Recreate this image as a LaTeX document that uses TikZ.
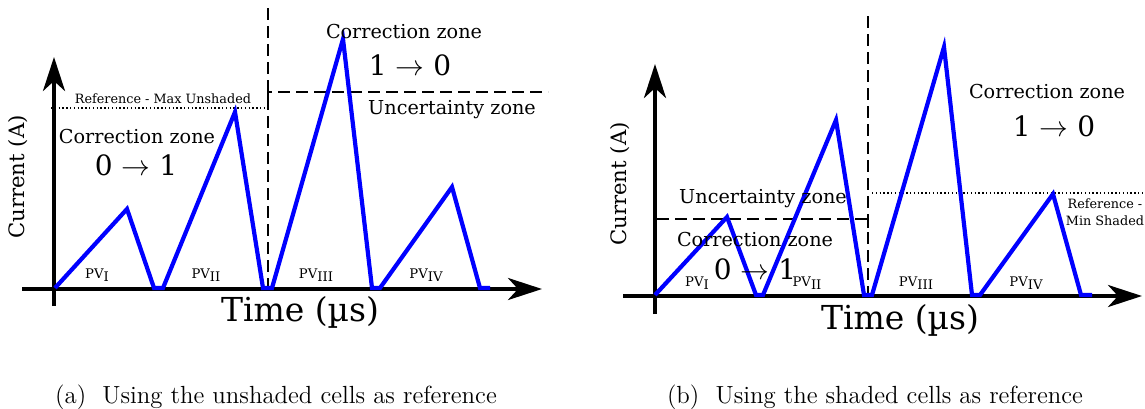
\documentclass[tikz,border=0pt]{standalone}
\usepackage{fontspec}
\newfontfamily\figfont{DejaVu Serif}
\usetikzlibrary{arrows.meta}

\newcommand{\pvsub}[1]{PV\raisebox{-0.35ex}{#1}}

\begin{document}
\begin{tikzpicture}[x=0.5pt, y=-0.5pt,
  every node/.style={inner sep=0.5pt},
  axis/.style={line width=2pt, -{Stealth[length=17pt, width=11pt, inset=5pt]}},
  pvline/.style={blue, line width=2.1pt, line join=miter},
  zone/.style={line width=0.8pt, dash pattern=on 6pt off 3pt},
  refline/.style={line width=0.8pt, dash pattern=on 0.7pt off 1.2pt},
  timelbl/.style={font=\figfont\fontsize{16.5}{19}\selectfont},
  zonelbl/.style={font=\figfont\fontsize{9.6}{11}\selectfont},
  translbl/.style={font=\figfont\fontsize{14}{16}\selectfont},
  reflbl/.style={font=\figfont\fontsize{6.4}{8.5}\selectfont, align=center},
  pvlbl/.style={font=\figfont\fontsize{6.6}{8}\selectfont},
  ylbl/.style={font=\figfont\fontsize{10.6}{12}\selectfont, rotate=90},
  caplbl/.style={font=\fontsize{12.4}{14}\selectfont}]
  \useasboundingbox (0,0) rectangle (1145,408);

  % (a) unshaded cells as reference
  \coordinate (ya0) at (54,306);  \coordinate (ya1) at (54,57);
  \coordinate (xa0) at (22,289);  \coordinate (xa1) at (542,289);
  \draw[axis] (ya0) -- (ya1);
  \draw[axis] (xa0) -- (xa1);
  \coordinate (da0) at (268,8);   \coordinate (da1) at (268,289);
  \draw[zone] (da0) -- (da1);
  \draw[zone] (268,100) -- (268,92) coordinate (ua0) -- (548,92) coordinate (ua1);
  \draw[refline] (51,108) coordinate (ra0) -- (268,108) coordinate (ra1);
  \draw[pvline] (55,288) -- (127,209) -- (154,288) -- (163,288) -- (235,112)
    -- (263,288) -- (272,288) -- (343,39) -- (372,288) -- (380,288)
    -- (452,187) -- (480,288) -- (490,288);

  \node[reflbl] (refa) at (163,99) {Reference - Max Unshaded};
  \node[zonelbl] (cza) at (137,137) {Correction zone};
  \node[translbl] (tra) at (136,165) {0 $\rightarrow$ 1};
  \node[zonelbl] (czb) at (404,32) {Correction zone};
  \node[translbl] (trb) at (410,65) {1 $\rightarrow$ 0};
  \node[zonelbl] (uza) at (452,110) {Uncertainty zone};
  \node[pvlbl] (pva1) at (97,275) {\pvsub{I}};
  \node[pvlbl] (pva2) at (206,275) {\pvsub{II}};
  \node[pvlbl] (pva3) at (316,275) {\pvsub{III}};
  \node[pvlbl] (pva4) at (426,275) {\pvsub{IV}};
  \node[ylbl] (cura) at (18,177) {Current (A)};
  \node[timelbl] (tima) at (300,312) {Time (µs)};
  \node[caplbl] (capa) at (276,397) {(a)\ \ Using the unshaded cells as reference};

  % (b) shaded cells as reference
  \coordinate (yb0) at (655,314); \coordinate (yb1) at (655,64);
  \coordinate (xb0) at (623,296); \coordinate (xb1) at (1142,296);
  \draw[axis] (yb0) -- (yb1);
  \draw[axis] (xb0) -- (xb1);
  \coordinate (db0) at (868,16);  \coordinate (db1) at (868,296);
  \draw[zone] (db0) -- (db1);
  \draw[zone] (657,219) coordinate (ub0) -- (868,219) coordinate (ub1) -- (868,228);
  \draw[refline] (872,193) coordinate (rb0) -- (1145,193) coordinate (rb1);
  \draw[pvline] (655,295) -- (727,217) -- (756,295) -- (763,295) -- (836,120)
    -- (864,295) -- (872,295) -- (944,47) -- (972,295) -- (980,295)
    -- (1053,194) -- (1081,295) -- (1092,295);

  \node[zonelbl] (uzb) at (763,199) {Uncertainty zone};
  \node[zonelbl] (czc) at (755,240) {Correction zone};
  \node[translbl] (trc) at (755,269) {0 $\rightarrow$ 1};
  \node[zonelbl] (czd) at (1047,92) {Correction zone};
  \node[translbl] (trd) at (1054,126) {1 $\rightarrow$ 0};
  \node[reflbl] (refb) at (1105,212) {Reference -\\Min Shaded};
  \node[pvlbl] (pvb1) at (697,283) {\pvsub{I}};
  \node[pvlbl] (pvb2) at (807,283) {\pvsub{II}};
  \node[pvlbl] (pvb3) at (916,283) {\pvsub{III}};
  \node[pvlbl] (pvb4) at (1026,283) {\pvsub{IV}};
  \node[ylbl] (curb) at (620,184) {Current (A)};
  \node[timelbl] (timb) at (900,320) {Time (µs)};
  \node[caplbl] (capb) at (875,397) {(b)\ \ Using the shaded cells as reference};
\end{tikzpicture}
\end{document}
